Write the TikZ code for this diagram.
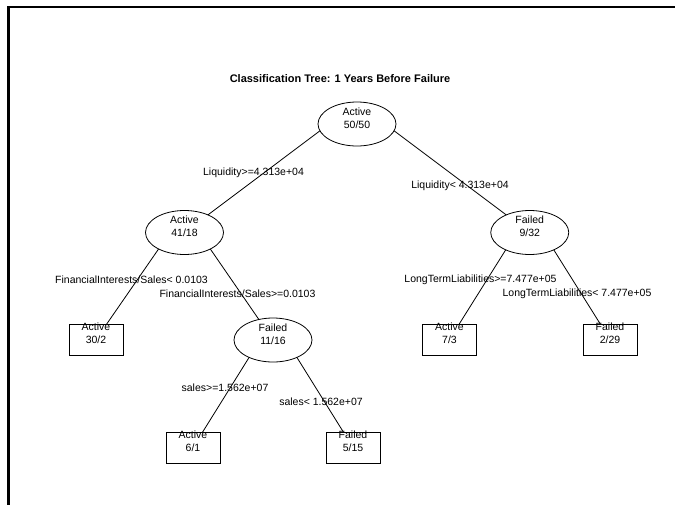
\documentclass[tikz,border=0pt]{standalone}
\usepackage{fontspec}
\setmainfont{Liberation Sans}
\usetikzlibrary{shapes.geometric,backgrounds}
\begin{document}
\begin{tikzpicture}[x=1pt,y=-1pt,
  every node/.style={font=\fontsize{10.5}{13}\selectfont},
  inner/.style={ellipse,draw,line width=0.8pt,fill=white,minimum width=78pt,minimum height=44pt,
    inner sep=0pt,align=center,text height=8.5pt,text depth=0pt},
  leaf/.style={rectangle,draw,line width=0.8pt,fill=white,minimum width=54pt,minimum height=31pt,
    inner sep=0pt,align=center,text height=8.5pt,text depth=0pt},
  split/.style={anchor=base,inner sep=0pt},
  branch/.style={line width=0.8pt}]
\useasboundingbox (0,0) rectangle (675,504);
\draw[line width=2.3pt] (8.5,520) -- (8.5,6.7) -- (690,6.7);

\node[anchor=base,inner sep=0pt,font=\fontsize{11}{13}\selectfont\bfseries] (title) at (340,82) {Classification Tree: 1 Years Before Failure};

% nodes
\node[inner] (root) at (357,124) {Active\\50/50};
\node[inner] (n2) at (184.5,232.5) {Active\\41/18};
\node[inner] (n3) at (529.75,232.5) {Failed\\9/32};
\node[leaf]  (l4) at (96,339.5) {Active\\30/2};
\node[inner] (n5) at (273,340) {Failed\\11/16};
\node[leaf]  (l6) at (449.5,339.5) {Active\\7/3};
\node[leaf]  (l7) at (610,339.5) {Failed\\2/29};
\node[leaf]  (l8) at (193,447.5) {Active\\6/1};
\node[leaf]  (l9) at (353,447.5) {Failed\\5/15};

% branch points
\coordinate (rootb) at (357,103);
\coordinate (n2b) at (184.5,211.5);
\coordinate (n3b) at (529.75,211.5);
\coordinate (n5b) at (273,319);

\begin{pgfonlayer}{background}
\fill[white] (0,0) rectangle (675,504);
\draw[branch] (rootb) -- (n2.center);
\draw[branch] (rootb) -- (n3.center);
\draw[branch] (n2b) -- (l4.center);
\draw[branch] (n2b) -- (n5.center);
\draw[branch] (n3b) -- (l6.center);
\draw[branch] (n3b) -- (l7.center);
\draw[branch] (n5b) -- (l8.center);
\draw[branch] (n5b) -- (l9.center);
\end{pgfonlayer}

% split labels
\node[split] (s1) at (253.5,175) {Liquidity>=4.313e+04};
\node[split] (s2) at (460,188) {Liquidity< 4.313e+04};
\node[split] (s3) at (131.5,283) {FinancialInterests/Sales< 0.0103};
\node[split] (s4) at (237.5,297) {FinancialInterests/Sales>=0.0103};
\node[split] (s5) at (480.5,282) {LongTermLiabilities>=7.477e+05};
\node[split] (s6) at (577,296) {LongTermLiabilities< 7.477e+05};
\node[split] (s7) at (225,391) {sales>=1.562e+07};
\node[split] (s8) at (321,405) {sales< 1.562e+07};
\end{tikzpicture}
\end{document}
